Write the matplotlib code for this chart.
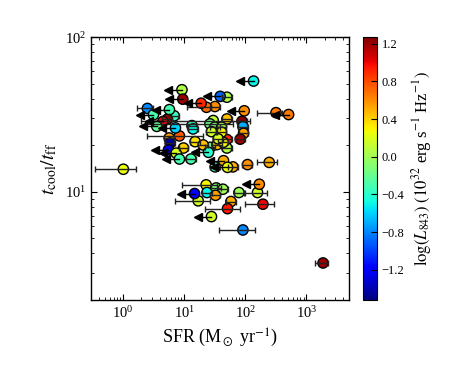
import numpy as np
import matplotlib
matplotlib.use("Agg")
import matplotlib.pyplot as plt

plt.rcParams['font.family'] = ['Liberation Serif', 'DejaVu Serif']
plt.rcParams['mathtext.fontset'] = 'stix'

# detections: SFR, t_cool/t_ff, log L843, SFR lower / upper bounds
sfr = [50.1, 31.9, 2.5, 6.86, 5.32, 13.4, 319, 50.1, 88.3, 91.7, 93.8, 82.8,
       50.1, 8.37, 5.68, 5.9, 9.74, 15.1, 26.7, 50.1, 34.4, 12.9, 1.01, 32.2,
       62.8, 109, 247, 22.9, 33.5, 43.1, 23.6, 32.6, 78.8, 159, 17.0, 58.3,
       51.3, 195, 91.7, 1878, 29.9, 26.4, 31.9, 40.9, 40.9, 28.0, 14.0, 43.6,
       23.2, 36.1, 20.5]
tct = [40.9, 35.6, 34.6, 31.0, 29.5, 26.8, 32.5, 29.6, 28.6, 26.4, 23.9, 21.9,
       21.8, 23.0, 22.3, 20.7, 19.2, 21.1, 19.4, 19.2, 20.2, 16.3, 14.0, 14.5,
       14.5, 15.0, 15.5, 11.1, 10.6, 10.4, 9.9, 9.5, 9.9, 9.9, 8.75, 8.66,
       7.79, 8.32, 5.67, 3.47, 28.9, 27.5, 26.2, 26.2, 24.3, 24.5, 25.5, 20.9,
       35.2, 22.0, 20.1]
lum = [0.05, 0.6, -0.8, -0.35, 1.2, -0.35, 0.65, 0.45, 1.25, -0.7, 0.55, 1.2,
       0.9, 0.75, 0.55, -1.45, 0.4, 0.35, -0.2, 0.05, 0.45, -0.3, 0.25, -0.35,
       0.5, 0.6, 0.5, 0.3, -0.1, 0.0, -0.5, 0.55, 0.0, 0.15, 0.15, 0.5,
       0.95, 1.0, -0.8, 1.2, 0.1, -0.15, -0.1, 0.0, 0.3, 0.15, -0.5, 0.3,
       0.7, 0.2, 0.45]
sfr_lo = [41, 26.5, 1.68, 5.7, 4.4, 11.1, 157, 41.6, 73, 76, 78, 69,
          41.6, 2.44, 4.7, 4.9, 8.1, 12.5, 22.2, 41.6, 28.6, 10.7, 0.35, 26.7,
          52, 90, 155, 9.2, 27.8, 35.8, 19.6, 27, 65, 100, 7.1, 48.4,
          22.1, 100, 37.9, 1405, 2.0, 2.3, 26.5, 33.9, 33.9, 23.2, 11.6, 36.2,
          11, 30, 17]
sfr_hi = [60.5, 38, 3.1, 8.2, 6.4, 16.1, 400, 60, 106, 110, 113, 99,
          60, 20, 6.8, 7.1, 11.7, 18.1, 32, 60, 41, 15.5, 1.63, 38.6,
          75, 131, 331, 35, 40, 51.7, 28.3, 39, 94.6, 227, 26.7, 70,
          82.8, 291, 146, 2295, 121, 63.5, 38.3, 49, 49, 33.6, 16.8, 52.3,
          28, 43.3, 24.6]

# upper limits on SFR
sfr_ul = [137, 9.2, 9.5, 38.9, 19.0, 5.74, 3.14, 4.48, 3.57, 7.2, 96.3, 513,
          5.53, 7.39, 25.0, 8.37, 44.1, 51.3, 170, 14.8, 28.0]
tct_ul = [52.0, 45.7, 39.7, 41.4, 37.4, 34.0, 31.5, 28.5, 26.5, 25.9, 33.4, 31.6,
          18.7, 17.8, 18.0, 16.3, 15.9, 14.4, 11.2, 9.75, 6.92]
lum_ul = [-0.5, 0.05, 1.2, -0.9, 0.9, -0.3, -0.3, 1.0, -0.2, -0.6, 0.6, 0.65,
          -1.3, 0.2, -0.4, -0.3, 0.5, 0.25, 0.6, -1.2, 0.15]

vmin, vmax = -1.52, 1.27
arrow_frac = 0.6   # arrow tip position as a fraction of the limit value

fig = plt.figure(figsize=(4.58, 3.75), dpi=100)
ax = fig.add_axes([0.199, 0.2, 0.563, 0.701])
cax = fig.add_axes([0.793, 0.2, 0.030, 0.701])

ax.set_xscale('log')
ax.set_yscale('log')
ax.set_xlim(0.3, 5000)
ax.set_ylim(2, 100)

sfr = np.array(sfr)
tct = np.array(tct)
xerr = [sfr - np.array(sfr_lo), np.array(sfr_hi) - sfr]
ax.errorbar(sfr, tct, xerr=xerr, fmt='none', ecolor='#222222', elinewidth=1,
            capsize=2.5, capthick=1, zorder=4)

# upper limit arrows
for x, y in zip(sfr_ul, tct_ul):
    ax.plot([x * arrow_frac, x], [y, y], color='k', lw=1, zorder=4)
    ax.plot(x * arrow_frac, y, marker='<', ms=5.5, color='k', mec='k', zorder=4)

sc = ax.scatter(np.concatenate([sfr, sfr_ul]), np.concatenate([tct, tct_ul]),
                c=np.concatenate([lum, lum_ul]), cmap='jet', vmin=vmin, vmax=vmax,
                s=55, edgecolors='k', linewidths=1, zorder=3)

ax.set_xlabel(r'SFR (M$_\odot$ yr$^{-1}$)', fontsize=13)
ax.set_ylabel(r'$t_{\rm cool}/t_{\rm ff}$', fontsize=14)
ax.tick_params(which='both', direction='in', top=True, right=True, labelsize=10.5)
ax.tick_params(which='major', length=4)
ax.tick_params(which='minor', length=2)
for s in ax.spines.values():
    s.set_linewidth(1)

cb = fig.colorbar(sc, cax=cax, ticks=[-1.2, -0.8, -0.4, 0.0, 0.4, 0.8, 1.2])
cb.ax.tick_params(direction='in', length=4, labelsize=9)
cb.set_label(r'$\log(L_{843})$ $(10^{32}$ erg s$^{-1}$ Hz$^{-1})$', fontsize=12)

fig.savefig('out.png', dpi=100)
